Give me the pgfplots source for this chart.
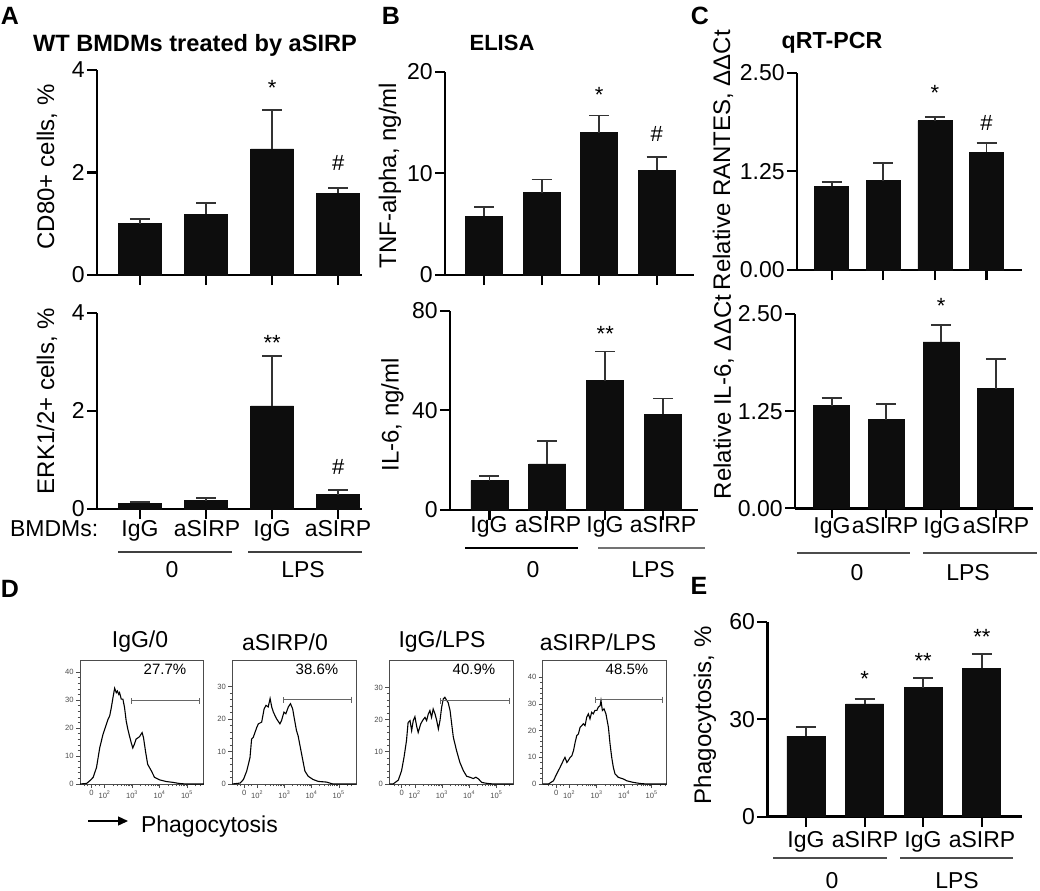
\documentclass[border=0pt]{standalone}
\usepackage{fontspec}
\setmainfont{Liberation Sans}
\usepackage{pgfplots}
\pgfplotsset{compat=1.18}
\usetikzlibrary{arrows.meta}

\newcommand{\fs}[1]{\fontsize{#1}{#1}\selectfont}

\pgfplotsset{
  barax/.style={
    scale only axis, anchor=south west, clip=false,
    axis lines=left, axis line style={-, line width=1.4pt},
    tick align=outside, major tick length=5pt,
    every tick/.style={black, line width=1.1pt},
    xtick={0,1,2,3}, xticklabels={},
    ymin=0, enlargelimits=false,
    tick label style={font=\fs{11.5}},
    yticklabel style={inner sep=1pt},
    /pgf/number format/assume math mode=true,
    ylabel style={font=\fs{12}, anchor=center},
  },
  bars/.style={ybar, fill=black!95, draw=black!95, bar width=#1,
    error bars/y dir=plus, error bars/y explicit,
    error bars/error bar style={line width=0.9pt, black!80},
    error bars/error mark options={rotate=90, line width=0.9pt, mark size=5pt, black!80}},
  hist/.style={
    scale only axis, anchor=south west, width=62pt, height=62pt,
    axis line style={black!70, line width=0.5pt},
    tick align=outside, xtick pos=left, ytick pos=left,
    major tick length=2pt, minor tick length=1.2pt,
    every tick/.style={black!70, line width=0.4pt},
    xtick={1.52,2,3,4,5},
    xticklabels={0,10\textsuperscript{2},10\textsuperscript{3},10\textsuperscript{4},10\textsuperscript{5}},
    minor xtick={1.25,1.38,1.66,1.8,2.301,2.477,2.602,2.699,2.778,2.845,2.903,2.954,
      3.301,3.477,3.602,3.699,3.778,3.845,3.903,3.954,
      4.301,4.477,4.602,4.699,4.778,4.845,4.903,4.954,5.301,5.477},
    minor y tick num=4, ymin=0, enlargelimits=false,
    tick label style={font=\fs{3.8}, black!70, inner sep=1pt},
    /pgf/number format/assume math mode=true,
  },
  curve/.style={black, line width=0.55pt, sharp plot, mark=none},
}
\tikzset{
  sig/.style={font=\fs{11}, inner sep=0pt},
  gate/.style={black!60, line width=0.5pt, {Bar[width=3pt]}-{Bar[width=3pt]}},
}

\begin{document}
\begin{tikzpicture}
\begin{scope}[x=0.5pt, y=-0.5pt]
\useasboundingbox (0,0) rectangle (1040,890);
% panel letters and titles
\node[font=\bfseries\fs{12.5}] at (10,16) {A};
\node[font=\bfseries\fs{12.5}] at (391,16) {B};
\node[font=\bfseries\fs{12.5}] at (700,16) {C};
\node[font=\bfseries\fs{12.5}] at (10,589) {D};
\node[font=\bfseries\fs{12.5}] at (699,586) {E};
\node[font=\bfseries\fs{11.8}] at (195,45) {WT BMDMs treated by aSIRP};
\node[font=\bfseries\fs{11}] at (502,43) {ELISA};
\node[font=\bfseries\fs{11.6}] at (832,43) {qRT-PCR};

% category labels, panel A
\node[font=\fs{11.5}, anchor=base west] at (3,536) {BMDMs:};
\foreach \x/\t in {140/IgG,207/aSIRP,272/IgG,338/aSIRP}
  \node[font=\fs{11.5}, anchor=base] at (\x,536) {\t};
\draw[black!75, line width=0.6pt] (118,552) -- (232,552) (248,552) -- (362,552);
\node[font=\fs{11.5}, anchor=base] at (172,577) {0};
\node[font=\fs{11.5}, anchor=base] at (303,577) {LPS};

% panel B
\foreach \x/\t in {489/IgG,548/aSIRP,605/IgG,663/aSIRP}
  \node[font=\fs{11.5}, anchor=base] at (\x,532) {\t};
\draw[black, line width=0.6pt] (465,548) -- (578,548);
\draw[black!55, line width=0.6pt] (598,548) -- (705,548);
\node[font=\fs{11.5}, anchor=base] at (533,577) {0};
\node[font=\fs{11.5}, anchor=base] at (653,577) {LPS};

% panel C
\foreach \x/\t in {832/IgG,885/aSIRP,942/IgG,996/aSIRP}
  \node[font=\fs{11.5}, anchor=base] at (\x,533) {\t};
\draw[black!70, line width=0.6pt] (797,553) -- (910,553) (923,553) -- (1037,553);
\node[font=\fs{11.5}, anchor=base] at (857,580) {0};
\node[font=\fs{11.5}, anchor=base] at (968,580) {LPS};

% panel E
\foreach \x/\t in {806/IgG,865/aSIRP,923/IgG,982/aSIRP}
  \node[font=\fs{11.5}, anchor=base] at (\x,847) {\t};
\draw[black!70, line width=0.6pt] (773,858) -- (887,858) (900,858) -- (1013,858);
\node[font=\fs{11.5}, anchor=base] at (832,888) {0};
\node[font=\fs{11.5}, anchor=base] at (957,888) {LPS};

% panel D labels
\foreach \x/\t in {140/{IgG/0},285/{aSIRP/0},442/{IgG/LPS},598/{aSIRP/LPS}}
  \node[font=\fs{11.5}] at (\x,642) {\t};
\foreach \x/\t in {165/27.7,317/38.6,474/40.9,627/48.5}
  \node[font=\fs{7.5}] at (\x,669) {\t\%};
\draw[line width=0.7pt, -{Triangle[length=5pt,width=4.5pt]}] (88,821) -- (128,821);
\node[font=\fs{11.5}, anchor=base west] at (134,832) {Phagocytosis};
\end{scope}

% ---------- A top
\begin{axis}[barax, at={(48.5pt,-137.5pt)}, width=132.5pt, height=102.5pt,
  xmin=-0.65, xmax=3.36, ymax=4, ytick={0,2,4},
  ylabel={CD80+ cells, \%}, ylabel style={at={(axis description cs:-0.189,0.527)}}]
\addplot[bars=21.5pt] coordinates {(0,1.00) +- (0,0.09) (1,1.19) +- (0,0.21) (2,2.46) +- (0,0.76) (3,1.60) +- (0,0.10)};
\node[sig] at (axis cs:2,3.66) {*};
\node[sig] at (axis cs:3,2.19) {\#};
\end{axis}

% ---------- A bottom
\begin{axis}[barax, at={(48.5pt,-254.5pt)}, width=132.5pt, height=98.15pt,
  xmin=-0.65, xmax=3.36, ymax=4, ytick={0,2,4},
  ylabel={ERK1/2+ cells, \%}, ylabel style={at={(axis description cs:-0.189,0.55)}}]
\addplot[bars=21.5pt] coordinates {(0,0.12) +- (0,0.03) (1,0.17) +- (0,0.06) (2,2.10) +- (0,1.02) (3,0.29) +- (0,0.10)};
\node[sig] at (axis cs:2,3.38) {**};
\node[sig] at (axis cs:3,0.86) {\#};
\end{axis}

% ---------- B top
\begin{axis}[barax, at={(222.5pt,-137.5pt)}, width=124.5pt, height=101.65pt,
  xmin=-0.68, xmax=3.65, ymax=20, ytick={0,10,20},
  ylabel={TNF-alpha, ng/ml}, ylabel style={at={(axis description cs:-0.221,0.49)}}]
\addplot[bars=18.5pt] coordinates {(0,5.8) +- (0,0.9) (1,8.1) +- (0,1.3) (2,14.0) +- (0,1.7) (3,10.3) +- (0,1.3)};
\node[sig] at (axis cs:2,17.7) {*};
\node[sig] at (axis cs:3,13.9) {\#};
\end{axis}

% ---------- B bottom
\begin{axis}[barax, at={(225pt,-255pt)}, width=124pt, height=99.65pt,
  xmin=-0.68, xmax=3.6, ymax=80, ytick={0,40,80},
  ylabel={IL-6, ng/ml}, ylabel style={at={(axis description cs:-0.232,0.477)}}]
\addplot[bars=18.5pt] coordinates {(0,11.8) +- (0,1.8) (1,18.5) +- (0,9.3) (2,51.9) +- (0,11.7) (3,38.5) +- (0,6.3)};
\node[sig] at (axis cs:2,70.5) {**};
\end{axis}

% ---------- C top
\begin{axis}[barax, at={(398.5pt,-135pt)}, width=112.35pt, height=98.65pt,
  xmin=-0.67, xmax=3.68, ymax=2.5, ytick={0,1.25,2.5},
  yticklabel style={/pgf/number format/fixed, /pgf/number format/fixed zerofill, /pgf/number format/precision=2},
  ylabel={Relative RANTES, ΔΔCt}, ylabel style={at={(axis description cs:-0.329,0.557)}}]
\addplot[bars=17pt] coordinates {(0,1.06) +- (0,0.06) (1,1.13) +- (0,0.23) (2,1.89) +- (0,0.05) (3,1.49) +- (0,0.12)};
\node[sig] at (axis cs:2,2.25) {*};
\node[sig] at (axis cs:3,1.86) {\#};
\end{axis}

% ---------- C bottom
\begin{axis}[barax, at={(397.5pt,-254.15pt)}, width=119pt, height=97.15pt,
  xmin=-0.67, xmax=3.68, ymax=2.5, ytick={0,1.25,2.5},
  yticklabel style={/pgf/number format/fixed, /pgf/number format/fixed zerofill, /pgf/number format/precision=2},
  ylabel={Relative IL-6, ΔΔCt}, ylabel style={at={(axis description cs:-0.30,0.573)}}]
\addplot[bars=18pt] coordinates {(0,1.32) +- (0,0.10) (1,1.14) +- (0,0.20) (2,2.14) +- (0,0.22) (3,1.54) +- (0,0.38)};
\node[sig] at (axis cs:2,2.61) {*};
\end{axis}

% ---------- E
\begin{axis}[barax, at={(383.65pt,-408.35pt)}, width=127.2pt, height=97.5pt,
  xmin=-0.66, xmax=3.68, ymax=60, ytick={0,30,60},
  ylabel={Phagocytosis, \%}, ylabel style={at={(axis description cs:-0.245,0.52)}}]
\addplot[bars=19pt] coordinates {(0,24.8) +- (0,2.7) (1,34.7) +- (0,1.4) (2,39.7) +- (0,2.9) (3,45.7) +- (0,4.4)};
\node[sig] at (axis cs:1,42.5) {*};
\node[sig] at (axis cs:2,47.8) {**};
\node[sig] at (axis cs:3,55.3) {**};
\end{axis}

% ---------- D histograms
\begin{axis}[hist, at={(40pt,-392pt)}, xmin=1.10, xmax=5.61, ymax=44.4, ytick={0,10,20,30,40}]
\addplot[curve] coordinates {(1.10,0) (1.34,0.2) (1.46,1.2) (1.58,2.4) (1.70,5.9) (1.76,9.5) (1.82,13.1)
 (1.88,15.5) (1.94,17.9) (2.04,20.8) (2.12,23.2) (2.18,24.4) (2.24,27.4) (2.30,31.0) (2.36,34.3)
 (2.42,32.7) (2.46,33.3) (2.51,32.1) (2.54,32.7) (2.60,30.4) (2.66,30.4) (2.72,27.4) (2.78,22.6)
 (2.84,19.6) (2.90,17.2) (2.96,14.9) (3.02,12.9) (3.08,14.3) (3.14,16.1) (3.26,16.9) (3.36,18.4)
 (3.41,16.6) (3.48,11.9) (3.56,7.1) (3.69,4.8) (3.81,2.4) (3.99,1.5) (4.23,0.9) (4.47,0.6)
 (4.71,0.2) (4.95,0) (5.61,0)};
\draw[gate] (axis cs:2.94,29.8) -- (axis cs:5.47,29.8);
\end{axis}

\begin{axis}[hist, at={(116.15pt,-392pt)}, xmin=1.08, xmax=5.64, ymax=38.3, ytick={0,10,20,30}]
\addplot[curve] coordinates {(1.08,0) (1.37,0.3) (1.49,1.4) (1.61,4.0) (1.73,8.1) (1.79,13.9) (1.85,14.4)
 (1.98,17.5) (2.04,18.6) (2.16,19.1) (2.25,23.2) (2.32,24.3) (2.40,23.8) (2.47,26.4) (2.53,23.8)
 (2.59,22.2) (2.71,20.1) (2.83,18.6) (2.89,19.6) (2.98,22.2) (3.05,21.7) (3.14,23.8) (3.22,24.8)
 (3.30,23.2) (3.34,21.2) (3.44,16.5) (3.50,14.9) (3.63,9.2) (3.75,4.0) (3.87,2.4) (4.05,1.4)
 (4.24,0.8) (4.54,0.6) (4.78,0) (5.64,0)};
\draw[gate] (axis cs:2.93,26.1) -- (axis cs:5.49,26.1);
\end{axis}

\begin{axis}[hist, at={(194.65pt,-392pt)}, xmin=1.06, xmax=5.61, ymax=38.5, ytick={0,10,20,30}]
\addplot[curve] coordinates {(1.06,0) (1.20,0) (1.39,1.2) (1.51,4.1) (1.60,8.3) (1.69,13.4) (1.75,19.1)
 (1.82,19.7) (1.88,16.6) (1.94,19.7) (2.00,20.9) (2.06,18.1) (2.12,16.0) (2.21,18.6) (2.28,19.7)
 (2.37,20.7) (2.43,19.7) (2.49,21.7) (2.55,22.8) (2.61,20.7) (2.67,23.3) (2.74,21.7) (2.80,19.7)
 (2.86,17.1) (2.92,19.7) (2.98,23.8) (3.04,26.4) (3.10,26.9) (3.17,25.9) (3.22,25.3) (3.29,22.8)
 (3.35,18.6) (3.41,14.5) (3.53,10.3) (3.65,6.7) (3.78,4.1) (3.90,2.4) (4.02,2.1) (4.14,1.7)
 (4.24,2.1) (4.33,1.6) (4.45,0.5) (4.64,0.2) (4.88,0) (5.61,0)};
\draw[gate] (axis cs:2.92,25.9) -- (axis cs:5.49,25.9);
\end{axis}

\begin{axis}[hist, at={(271.35pt,-392pt)}, xmin=1.03, xmax=5.54, ymax=46.5, ytick={0,10,20,30,40}]
\addplot[curve] coordinates {(1.03,0) (1.24,0) (1.42,1.2) (1.54,3.8) (1.66,6.2) (1.78,8.8) (1.84,10.0)
 (1.91,8.1) (1.96,8.8) (2.03,10.0) (2.09,10.6) (2.15,12.5) (2.21,15.6) (2.27,18.2) (2.33,18.8)
 (2.39,21.3) (2.45,21.9) (2.51,22.6) (2.57,21.9) (2.63,25.0) (2.69,26.3) (2.75,24.4) (2.81,26.9)
 (2.87,26.3) (2.93,27.6) (3.00,27.6) (3.05,28.8) (3.12,29.4) (3.15,31.3) (3.20,27.6) (3.26,28.2)
 (3.33,26.3) (3.42,21.3) (3.48,15.0) (3.54,10.0) (3.60,6.2) (3.66,3.8) (3.78,2.5) (3.96,1.9)
 (4.09,1.2) (4.33,0.6) (4.57,0.2) (4.81,0) (5.54,0)};
\draw[gate] (axis cs:2.93,31.6) -- (axis cs:5.42,31.6);
\end{axis}
\end{tikzpicture}
\end{document}
